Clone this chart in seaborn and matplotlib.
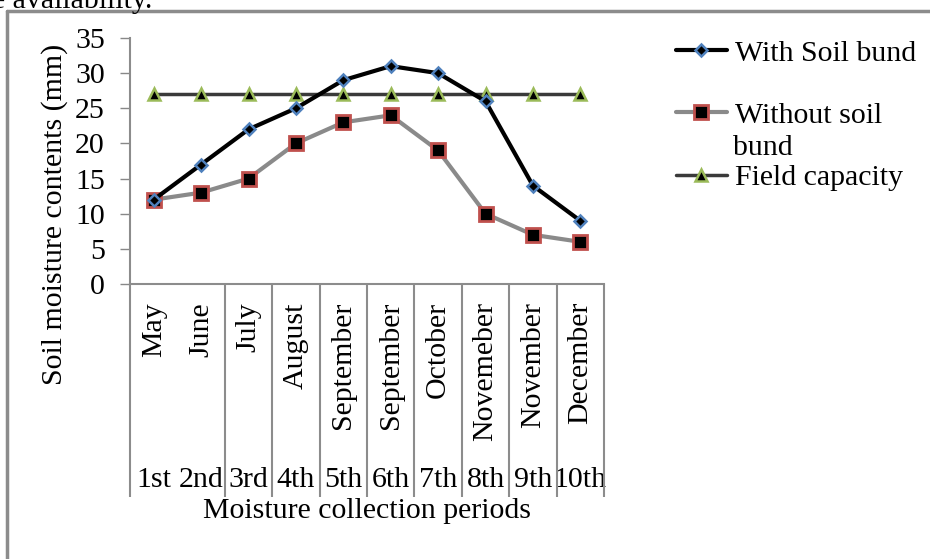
import matplotlib
matplotlib.use("Agg")
import matplotlib.pyplot as plt
from matplotlib.lines import Line2D
import seaborn as sns
import pandas as pd
import numpy as np

months = ["May", "June", "July", "August", "September", "September",
          "October", "Novemeber", "November", "December"]
periods = ["1st", "2nd", "3rd", "4th", "5th", "6th", "7th", "8th", "9th", "10th"]
with_bund = [12, 17, 22, 25, 29, 31, 30, 26, 14, 9]
without_bund = [12, 13, 15, 20, 23, 24, 19, 10, 7, 6]
field_capacity = [27, 27, 27, 27, 27, 27, 27, 27, 27, 27]
y_ticks = [0, 5, 10, 15, 20, 25, 30, 35]

sns.set_theme(style="white")
plt.rcParams['font.family'] = ['Liberation Serif', 'DejaVu Serif']
plt.rcParams['text.color'] = 'black'
plt.rcParams['axes.labelcolor'] = 'black'
plt.rcParams['xtick.labelcolor'] = 'black'
plt.rcParams['ytick.labelcolor'] = 'black'
FS = 21.5

W, H = 930, 559
fig = plt.figure(figsize=(W / 100, H / 100), dpi=100)
ax = fig.add_axes([130 / W, 1 - 284 / H, (604 - 130) / W, (284 - 38) / H])

x = np.arange(len(periods))
df = pd.DataFrame({"x": x, "with": with_bund, "without": without_bund, "fc": field_capacity})

sns.lineplot(data=df, x="x", y="fc", ax=ax, color="#3a3a3a", lw=2.5,
             marker="^", markersize=9, markerfacecolor="black",
             markeredgecolor="#9BBB59", markeredgewidth=1.8, label="Field capacity")
sns.lineplot(data=df, x="x", y="without", ax=ax, color="#8a8a8a", lw=3,
             marker="s", markersize=9.5, markerfacecolor="black",
             markeredgecolor="#C0504D", markeredgewidth=2, label="Without soil")
sns.lineplot(data=df, x="x", y="with", ax=ax, color="black", lw=3,
             marker="D", markersize=6.5, markerfacecolor="black",
             markeredgecolor="#4F81BD", markeredgewidth=1.8, label="With Soil bund")

ax.set_xlim(-0.5, len(periods) - 0.5)
ax.set_ylim(0, 35)
ax.set_yticks(y_ticks)
ax.set_yticklabels([str(v) for v in y_ticks], fontsize=FS)
ax.tick_params(axis="y", length=7, width=1, color="#888888", direction="out", left=True,
               pad=11, labelcolor="black")

# x axis: months (major) and periods (minor)
ax.xaxis.remove_overlapping_locs = False
ax.set_xticks(x)
ax.set_xticklabels(months, rotation=90, fontsize=FS, va="top", ha="center")
ax.set_xticks(x, minor=True)
ax.set_xticklabels(periods, minor=True, fontsize=FS)
ax.tick_params(axis="x", which="major", length=0, pad=13, labelcolor="black")
ax.tick_params(axis="x", which="minor", length=0, pad=132, labelcolor="black")

# category separators
bounds = [-0.5] + [k + 0.5 for k in range(1, len(periods) - 1)] + [len(periods) - 0.5]
ax.vlines(bounds, -0.866, 0, transform=ax.get_xaxis_transform(), colors="#8c8c8c",
          lw=1.5, clip_on=False)

for s in ["top", "right"]:
    ax.spines[s].set_visible(False)
for s in ["left", "bottom"]:
    ax.spines[s].set_color("#8c8c8c")
    ax.spines[s].set_linewidth(1.5)

ax.set_xlabel("Moisture collection periods", fontsize=FS, labelpad=3)
ax.set_ylabel("Soil moisture contents (mm)", fontsize=FS, va="center")
ax.yaxis.set_label_coords((55 - 130) / 474, (284 - 214) / 246)

handles, labels = ax.get_legend_handles_labels()
order = [2, 1, 0]
leg = ax.legend([handles[i] for i in order], [labels[i] for i in order],
                loc="upper left", bbox_to_anchor=(655 / W, 1 - 19 / H),
                bbox_transform=fig.transFigure, frameon=False, fontsize=FS,
                handlelength=1.7, handletextpad=0.27, labelspacing=1.18,
                borderpad=0.2)
# wrapped continuation of the second legend label
fig.text(733 / W, 1 - 148 / H, "bund", fontsize=FS, ha="left", va="center")

# outer frame and clipped caption
fig.add_artist(Line2D([7 / W, 7 / W], [1 - 11 / H, 0], color="#8c8c8c", lw=2.5))
fig.add_artist(Line2D([7 / W, 1], [1 - 11 / H, 1 - 11 / H], color="#8c8c8c", lw=2.5))
fig.text(-8 / W, 1 - 8 / H, "e availability.", fontsize=FS, ha="left", va="baseline")

fig.savefig("out.png", dpi=100)
